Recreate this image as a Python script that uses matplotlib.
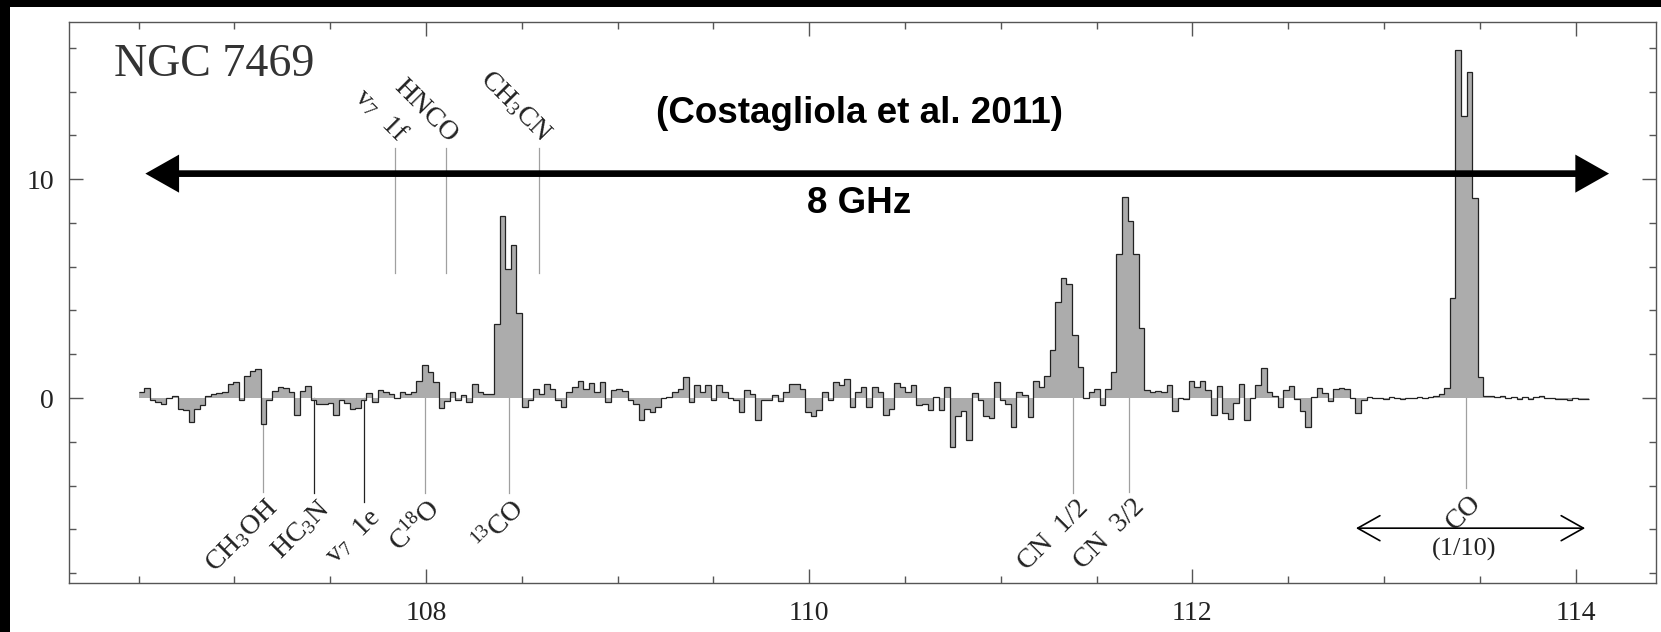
import numpy as np
import matplotlib.pyplot as plt
from matplotlib.patches import Rectangle
from matplotlib.ticker import MultipleLocator

plt.rcParams['font.family'] = ['Liberation Serif', 'DejaVu Serif']
plt.rcParams['mathtext.fontset'] = 'custom'
plt.rcParams['mathtext.rm'] = 'Liberation Serif'
plt.rcParams['mathtext.it'] = 'Liberation Serif:italic'

# ------------------------------
# spectrum (GHz, flux), channel grid
# ------------------------------
F_START = 106.5
CHAN_WIDTH = 0.029

# 106.50 - 108.36 GHz
flux_a = [0.27, 0.45, -0.08, -0.18, -0.26, 0.0, 0.08, -0.49, -0.53, -1.1,
          -0.49, -0.33, 0.1, 0.2, 0.24, 0.27, 0.65, 0.73, -0.08, 1.03,
          1.26, 1.31, -1.17, -0.08, 0.32, 0.5, 0.46, 0.26, -0.75, 0.32,
          0.53, -0.08, -0.26, -0.26, -0.21, -0.75, -0.1, -0.23, -0.49, -0.44,
          -0.1, 0.25, -0.2, 0.38, 0.27, 0.17, 0.0, 0.27, 0.17, 0.27,
          0.76, 1.49, 1.19, 0.73, -0.44, -0.14, 0.27, -0.1, 0.12, -0.18,
          0.65, 0.27, 0.2, 0.2]
# 13CO
flux_13co = [3.4, 8.3, 5.9, 7.0, 3.9]
# 108.50 - 111.22 GHz
flux_b = [-0.41, -0.08, 0.43, 0.2, 0.65, 0.43, -0.1,
          -0.4, 0.27, 0.5, 0.76, 0.4, 0.68, 0.27, 0.73, -0.18, 0.35,
          0.43, 0.32, -0.08, -0.26, -1.0, -0.5, -0.65, -0.4, 0.0, 0.05,
          0.27, 0.43, 0.96, -0.18, 0.58, 0.27, 0.58, -0.1, 0.58, 0.27,
          0.0, -0.1, -0.64, 0.35, 0.2, -1.0, -0.1, -0.08, 0.12, -0.14,
          0.27, 0.65, 0.65, 0.43, -0.64, -0.8, -0.56, 0.27, -0.1, 0.73,
          0.58, 0.88, -0.41, 0.27, 0.5, -0.41, 0.5, 0.27, -0.75, -0.49,
          0.7, 0.5, 0.27, 0.58, -0.33, -0.26, -0.56, 0.05, -0.53, 0.5,
          -2.24, -0.8, -0.6, -1.93, 0.23, -0.1, -0.8, -0.91, 0.73, -0.1,
          -0.26, -1.32, 0.3, 0.12, -0.87, 0.8, 0.5]
# CN 1/2
flux_cn12 = [1.0, 2.2, 4.4, 5.5, 5.2, 2.9, 1.4, 0.0]
flux_c = [0.3, 0.43, -0.33, 0.4, 1.2]
# CN 3/2
flux_cn32 = [6.6, 9.2, 8.1, 6.6, 3.2]
# 111.75 - 112.85 GHz
flux_d = [0.35, 0.3, 0.32, 0.28, 0.6, -0.6, 0.0, -0.05, 0.77, 0.5,
          0.77, 0.35, -0.75, 0.53, -0.7, -0.94, -0.24, 0.64, -0.98, 0.0,
          0.6, 1.38, 0.3, 0.1, -0.42, 0.35, 0.53, -0.05, -0.6, -1.3,
          0.04, 0.46, 0.22, -0.15, 0.4, 0.46, 0.4, 0.0, -0.7]
# CO band, scaled by 1/10
flux_e = [-0.08, 0.05, 0.0, 0.02, -0.03, 0.03, 0.0, -0.03, 0.02, 0.0,
          0.05, 0.0, 0.03, 0.08]
flux_co = [0.2, 0.45, 4.55, 15.9, 12.9, 14.9, 9.15, 0.96]
flux_f = [0.1, 0.1, 0.05, 0.08, 0.02, 0.05, -0.03, 0.06, -0.02, 0.05,
          0.08, 0.02, 0.0, -0.03, -0.02, -0.1, 0.0, -0.05, -0.03]

flux = np.array(flux_a + flux_13co + flux_b + flux_cn12 + flux_c
                + flux_cn32 + flux_d + flux_e + flux_co + flux_f)
edges = F_START + CHAN_WIDTH * np.arange(len(flux) + 1)

# line identifications below the spectrum
low_names = [r'CH$_3$OH', r'HC$_3$N', r'v$_7$  1e', r'C$^{18}$O', r'$^{13}$CO',
             'CN  1/2', 'CN  3/2', 'CO']
low_freqs = [107.147, 107.417, 107.678, 107.995, 108.434, 111.378, 111.670, 113.430]
low_ends = [-4.3, -4.35, -4.75, -4.35, -4.35, -4.35, -4.3, -4.1]
low_dark = [False, True, True, False, False, False, False, False]

# line identifications above the spectrum
up_names = [r'v$_7$  1f', 'HNCO', r'CH$_3$CN']
up_freqs = [107.838, 108.103, 108.590]
up_bottom = [5.7, 5.7, 5.7]
up_top = [11.4, 11.4, 11.4]

fig = plt.figure(figsize=(16.61, 6.32), dpi=100, facecolor='black')
fig.patches.append(Rectangle((10 / 1661, 0), 1, 1 - 7 / 632, transform=fig.transFigure,
                             facecolor='white', edgecolor='none', zorder=-10))
ax = fig.add_axes([0.04172, 0.0780, 0.95527, 0.88671])

ax.stairs(flux, edges, baseline=0, fill=True, color='#acacac', zorder=2)
ax.stairs(flux, edges, baseline=None, color='#222222', lw=0.9, zorder=3)

for name, f, y1, dark in zip(low_names, low_freqs, low_ends, low_dark):
    ax.plot([f, f], [0, y1], color='#222222' if dark else '#a0a0a0', lw=0.9, zorder=1)
    ax.text(f + 0.012, y1 - 0.1, name, rotation=45, rotation_mode='anchor',
            ha='right', va='top', fontsize=20, color='#222222')

for name, f, y0, y1 in zip(up_names, up_freqs, up_bottom, up_top):
    ax.plot([f, f], [y0, y1], color='#a0a0a0', lw=0.9, zorder=1)
    ax.text(f - 0.005, y1 + 0.05, name, rotation=-45, rotation_mode='anchor',
            ha='right', va='bottom', fontsize=20, color='#222222')

# 8 GHz band arrow
ax.annotate('', xy=(106.535, 10.25), xytext=(114.175, 10.25),
            arrowprops=dict(arrowstyle='<|-|>,head_length=0.85,head_width=0.48',
                            mutation_scale=20, lw=4.8, color='black',
                            joinstyle='miter', capstyle='butt',
                            shrinkA=0, shrinkB=0), zorder=5)
ax.text(110.26, 13.0, '(Costagliola et al. 2011)', family='Liberation Sans',
        fontweight='bold', fontsize=26.5, ha='center', va='center')
ax.text(110.26, 8.9, '8 GHz', family='Liberation Sans',
        fontweight='bold', fontsize=26.5, ha='center', va='center')

# CO scaled region
ax.annotate('', xy=(112.854, -5.94), xytext=(114.05, -5.94),
            arrowprops=dict(arrowstyle='<->,head_length=0.8,head_width=0.45',
                            mutation_scale=20, lw=1.2, color='black',
                            shrinkA=0, shrinkB=0))
ax.text(113.42, -6.9, '(1/10)', fontsize=19, ha='center', va='center', color='#222222')

ax.text(106.372, 15.2, 'NGC 7469', fontsize=33, ha='left', va='center', color='#333333')

ax.set_xlim(106.138, 114.42)
ax.set_ylim(-8.43, 17.16)
ax.xaxis.set_major_locator(MultipleLocator(2))
ax.xaxis.set_minor_locator(MultipleLocator(0.5))
ax.yaxis.set_major_locator(MultipleLocator(10))
ax.yaxis.set_minor_locator(MultipleLocator(2))
ax.tick_params(which='both', direction='in', top=True, right=True,
               color='#555555', labelcolor='#222222', width=1.0)
ax.tick_params(which='major', length=10, labelsize=20)
ax.tick_params(which='minor', length=5)
ax.tick_params(axis='x', which='major', pad=13)
ax.tick_params(axis='y', which='major', pad=11)
for s in ax.spines.values():
    s.set_color('#555555')
    s.set_linewidth(1.0)

fig.savefig('out.png', dpi=100, facecolor=fig.get_facecolor())
